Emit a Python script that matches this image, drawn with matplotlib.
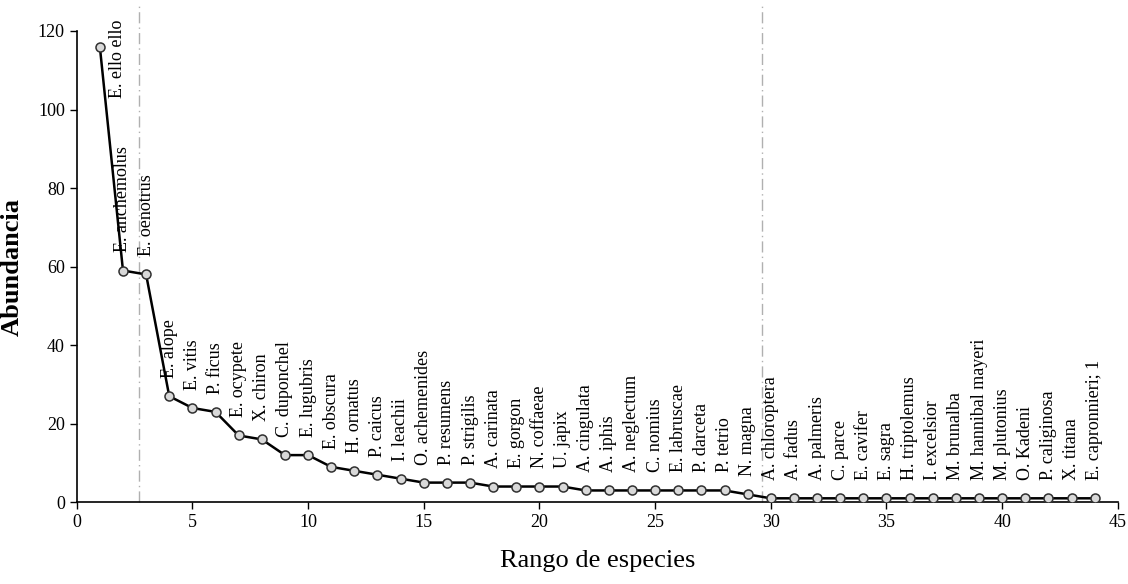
import numpy as np
import matplotlib.pyplot as plt

plt.rcParams['font.family'] = ['Liberation Serif', 'DejaVu Serif']

# rango-abundancia
rango = list(range(1, 45))
abundancia = [116, 59, 58, 27, 24, 23, 17, 16, 12, 12, 9, 8, 7, 6, 5, 5, 5,
              4, 4, 4, 4, 3, 3, 3, 3, 3, 3, 3, 2,
              1, 1, 1, 1, 1, 1, 1, 1, 1, 1, 1, 1, 1, 1, 1]
especies = ["E. ello ello", "E. anchemolus", "E. oenotrus", "E. alope", "E. vitis",
            "P. ficus", "E. ocypete", "X. chiron", "C. duponchel", "E. lugubris",
            "E. obscura", "H. ornatus", "P. caicus", "I. leachii", "O. achemenides",
            "P. resumens", "P. strigilis", "A. carinata", "E. gorgon", "N. coffaeae",
            "U. japix", "A. cingulata", "A. iphis", "A. neglectum", "C. nomius",
            "E. labruscae", "P. darceta", "P. tetrio", "N. magna", "A. chloroptera",
            "A. fadus", "A. palmeris", "C. parce", "E. cavifer", "E. sagra",
            "H. triptolemus", "I. excelsior", "M. brunalba", "M. hannibal mayeri",
            "M. plutonius", "O. Kadeni", "P. caliginosa", "X. titana",
            "E. capronnieri; 1"]
cortes = [2.7, 29.6]

fig = plt.figure(figsize=(11.28, 5.84), dpi=100)
ax = fig.add_axes([0.068, 0.140, 0.923, 0.807])

for c in cortes:
    ax.axvline(c, ymin=0, ymax=1.055, color='#b0b0b0', lw=1,
               ls=(0, (8, 3, 1, 3)), clip_on=False, zorder=1)

ax.plot(rango, abundancia, color='black', lw=1.8, marker='o', ms=6.5,
        mfc='#d9d9d9', mec='#303030', mew=1.1, zorder=3)

for i, (x, y, nombre) in enumerate(zip(rango, abundancia, especies)):
    if i == 0:
        ax.text(1.75, 103, nombre, rotation=90, ha='center', va='bottom',
                fontsize=13)
    else:
        ax.annotate(nombre, (x, y), xytext=(0, 13), textcoords='offset points',
                    rotation=90, ha='center', va='bottom', fontsize=13)

ax.set_xlim(0, 45)
ax.set_ylim(0, 120)
ax.set_xticks(np.arange(0, 46, 5))
ax.set_yticks(np.arange(0, 121, 20))
ax.tick_params(labelsize=13, direction='out', length=5, width=1)
for s in ['top', 'right']:
    ax.spines[s].set_visible(False)
ax.spines['left'].set_linewidth(1.2)
ax.spines['bottom'].set_linewidth(1.2)

ax.set_xlabel('Rango de especies', fontsize=19, labelpad=14)
ax.set_ylabel('Abundancia', fontsize=19, fontweight='bold', labelpad=10)

fig.savefig('out.png', dpi=100)
